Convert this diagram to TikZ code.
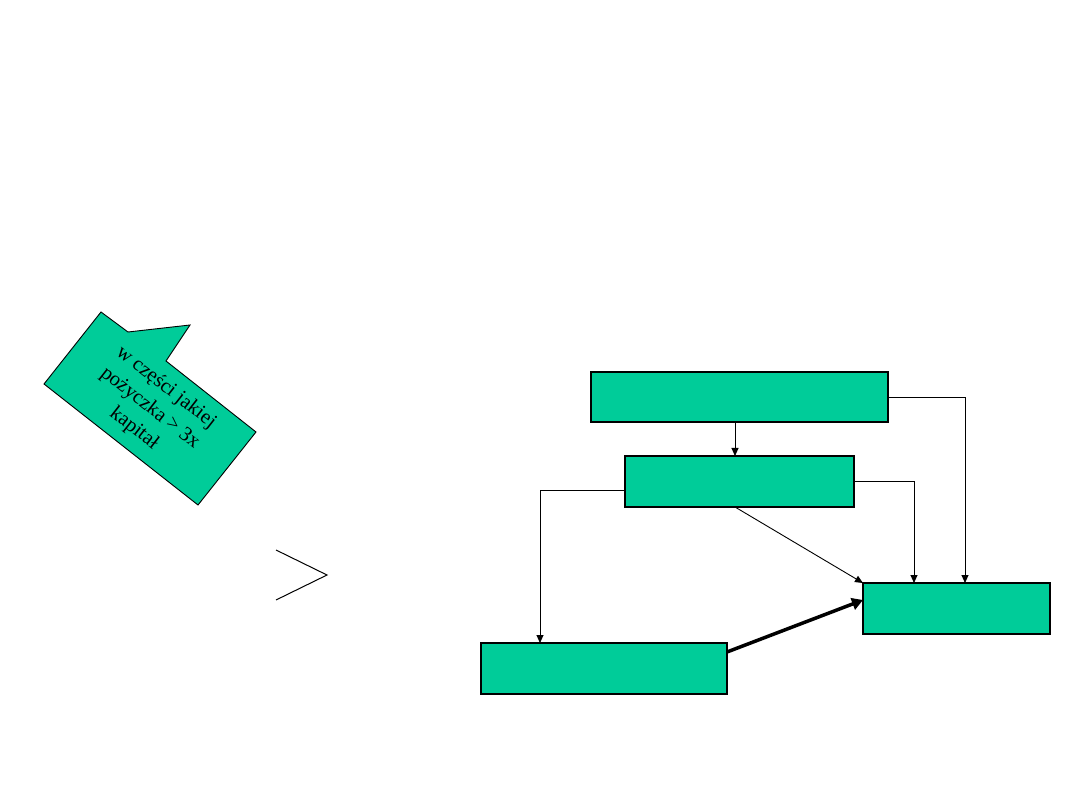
\documentclass[tikz,border=0pt]{standalone}
\usepackage{fontspec}
\setmainfont{Liberation Serif}
\usetikzlibrary{arrows.meta}
\definecolor{boxgreen}{RGB}{0,204,153}
\begin{document}
\begin{tikzpicture}[x=1pt,y=-1pt,
  box/.style={draw=black,line width=1.2pt,fill=boxgreen,inner sep=0pt,outer sep=0pt},
  arr/.style={draw=black,line width=0.9pt,-{Triangle[length=8pt,width=7pt]}},
  thickarr/.style={draw=black,line width=3.5pt,-{Triangle[length=11pt,width=12pt]}}]
\useasboundingbox (0,0) rectangle (1080,810);
% boxes
\node[box,minimum width=297pt,minimum height=50pt] (A) at (739.5,397) {};
\node[box,minimum width=229pt,minimum height=51pt] (B) at (739.5,481.5) {};
\node[box,minimum width=246pt,minimum height=51pt] (C) at (604,668.5) {};
\node[box,minimum width=187pt,minimum height=51pt] (D) at (956.5,608.5) {};
% connectors
\draw[arr] ([xshift=-4.5pt]A.south) -- ([xshift=-4.5pt]B.north);
\draw[arr] (A.east) -| ([xshift=8.5pt]D.north);
\draw[arr] (B.east) -| ([xshift=-42.5pt]D.north);
\draw[arr] ([yshift=-8.5pt]B.west) -| ([xshift=-64pt]C.north);
\draw[arr] ([xshift=-4.5pt]B.south) -- (D.north west);
\draw[thickarr] ([yshift=16.5pt]C.east) -- ([yshift=8.5pt]D.west);
% callout
\draw[line width=0.9pt,fill=boxgreen] (101,312) -- (128,332) -- (190,325) -- (166,361) -- (256,432) -- (198,505) -- (44,384) -- cycle;
\node[rotate=-38,align=center,font=\fontsize{20.5}{26}\selectfont,inner sep=0pt] (T) at (150,408) {w części jakiej\\pożyczka > 3x\\kapitał};
% chevron
\coordinate (p1) at (276,550);
\coordinate (p2) at (327,575);
\coordinate (p3) at (276,600);
\draw[line width=1pt] (p1) -- (p2) -- (p3);
\end{tikzpicture}
\end{document}
